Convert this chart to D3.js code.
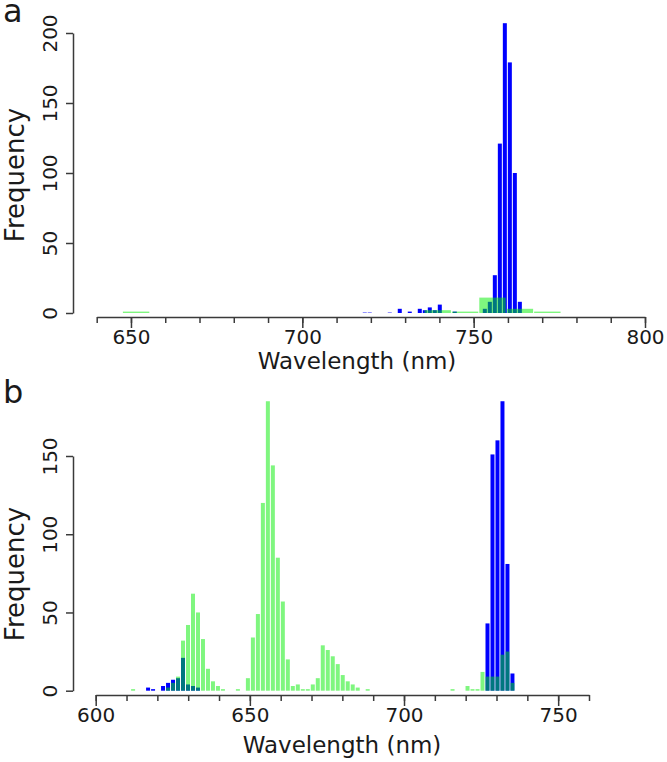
<!DOCTYPE html>
<html><head><meta charset="utf-8">
<script src="https://cdn.jsdelivr.net/npm/d3@7"></script>
<style>
html,body{margin:0;padding:0;background:#fff;}
svg{display:block;}
text{font-family:"DejaVu Sans",Verdana,sans-serif;fill:#1a1a1a;}
</style></head><body>
<svg id="chart" width="667" height="762"></svg>
<script>
// ---------- Panel a data ----------
const aXTicks = [650, 700, 750, 800];
const aXMinor = [640,650,660,670,680,690,700,710,720,730,740,750,760,770,780,790,800];
const aYTicks = [0, 50, 100, 150, 200];
const aBlueStart = 717.49, aBlueWidth = 1.46;
const aBlueCounts = [0.3,0.3,0,0,0,0.3,0,3,0,1,
                     0,3,2,4,2,6,0,0,1,0,
                     0,0,0,0,3,8,27,121,207,179,
                     100,8];
const aGreenStart = 647.5, aGreenWidth = 8;
const aGreenCounts = [1,0,0,0,0,0,0,0,0,0,0,2,1,11,3,1];

// ---------- Panel b data ----------
const bXTicks = [600, 650, 700, 750];
const bXMinor = [600,610,620,630,640,650,660,670,680,690,700,710,720,730,740,750,760];
const bYTicks = [0, 50, 100, 150];
const bBinStart = 609.7, bBinWidth = 1.619;
const bBlueCounts = [0,0,0,0,2,1,0,3,5,7,
                     8,21,4,3,2,0,0,0,0,0,
                     0,0,0,0,0,0,0,0,0,0,
                     0,0,0,0,0,0,0,0,0,0,
                     0,0,0,0,0,0,0,0,0,0,
                     0,0,0,0,0,0,0,0,0,0,
                     0,0,0,0,0,0,0,0,0,0,
                     0,0,43,151,160,185,81,11];
const bGreenCounts = [0,1,0,0,0,0,0,0,2,5,
                      9,32,42,62,50,33,14,6,3,1,
                      0,0,1,0,8,34,49,120,185,144,
                      85,57,20,3,4,1,1,4,8,29,
                      26,22,17,10,6,4,2,0,1,0,
                      0,0,0,0,0,0,0,0,0,0,
                      0,0,0,0,0,1,0,0,3,1,
                      1,12,9,9,9,23,25,5];

const BLUE = "#0000ff", GREEN = "rgba(0,238,0,0.5)", AXIS = "#3a3a3a";
const svg = d3.select("#chart");

function panel(o) {
  const g = svg.append("g");
  const x = d3.scaleLinear().domain(o.xDomain).range(o.xRange);
  const y = d3.scaleLinear().domain(o.yDomain).range(o.yRange);

  function bars(start, width, counts, fill) {
    const data = counts.map((c, i) => ({x0: start + i * width, x1: start + (i + 1) * width, c})).filter(d => d.c > 0);
    g.append("g").selectAll("rect").data(data).join("rect")
      .attr("x", d => x(d.x0) + 0.5)
      .attr("width", d => Math.max(0.5, x(d.x1) - x(d.x0) - 1))
      .attr("y", d => y(d.c))
      .attr("height", d => y(0) - y(d.c))
      .attr("fill", fill);
  }
  o.series.forEach(s => bars(s.start, s.width, s.counts, s.fill));

  const xa = g.append("g").attr("transform", `translate(0,${o.xAxisY})`);
  xa.call(d3.axisBottom(x).tickValues(o.xMinor).tickSize(6).tickSizeOuter(0).tickFormat(""));
  const xb = g.append("g").attr("transform", `translate(0,${o.xAxisY})`);
  xb.call(d3.axisBottom(x).tickValues(o.xTicks).tickSize(11).tickSizeOuter(0).tickPadding(o.xPad));
  xb.select(".domain").remove();
  [xa, xb].forEach(s => {
    s.selectAll("path,line").attr("stroke", AXIS).attr("stroke-width", 1.5);
    s.selectAll("text").style("font-size", "20px").attr("fill", "#1a1a1a");
  });

  const ya = g.append("g").attr("transform", `translate(${o.yAxisX},0)`);
  ya.call(d3.axisLeft(y).tickValues(o.yTicks).tickSize(7).tickSizeOuter(0));
  ya.selectAll("path,line").attr("stroke", AXIS).attr("stroke-width", 1.5);
  ya.selectAll(".tick text").style("font-size", "20px").attr("fill", "#1a1a1a")
    .attr("transform", "rotate(-90)").attr("x", 0).attr("y", -16).attr("dy", null)
    .attr("text-anchor", "middle");

  g.append("text").attr("x", o.xLabelX).attr("y", o.xLabelY).attr("text-anchor", "middle")
    .style("font-size", "23px").text("Wavelength (nm)");
  g.append("text").attr("transform", `translate(${24},${o.yLabelY}) rotate(-90)`)
    .attr("text-anchor", "middle").style("font-size", "26px").text("Frequency");
  g.append("text").attr("x", 3).attr("y", o.letterY).style("font-size", "32px").text(o.letter);
}

panel({
  letter: "a", letterY: 22,
  xDomain: [640, 800], xRange: [96.7, 645], yDomain: [0, 200], yRange: [313, 33],
  xAxisY: 317, yAxisX: 73, xTicks: aXTicks, xMinor: aXMinor, yTicks: aYTicks, xPad: 2,
  xLabelX: 357, xLabelY: 369, yLabelY: 175,
  series: [
    {start: aBlueStart, width: aBlueWidth, counts: aBlueCounts, fill: BLUE},
    {start: aGreenStart, width: aGreenWidth, counts: aGreenCounts, fill: GREEN}
  ]
});

panel({
  letter: "b", letterY: 403,
  xDomain: [600, 760], xRange: [95.7, 589], yDomain: [0, 150], yRange: [690.7, 456],
  xAxisY: 695, yAxisX: 73, xTicks: bXTicks, xMinor: bXMinor, yTicks: bYTicks, xPad: 2,
  xLabelX: 342, xLabelY: 753, yLabelY: 574,
  series: [
    {start: bBinStart, width: bBinWidth, counts: bBlueCounts, fill: BLUE},
    {start: bBinStart, width: bBinWidth, counts: bGreenCounts, fill: GREEN}
  ]
});
</script>
</body></html>
